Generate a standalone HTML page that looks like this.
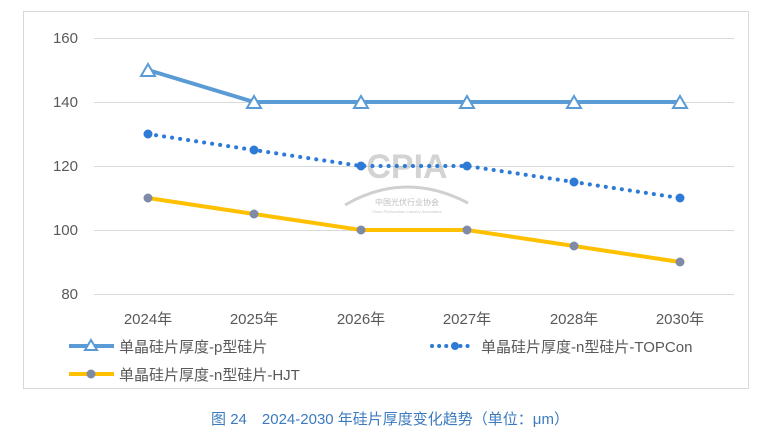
<!DOCTYPE html>
<html><head><meta charset="utf-8"><style>
body{margin:0;background:#fff;width:776px;height:434px;overflow:hidden}
text{font-family:"Liberation Sans","Noto Sans CJK SC",sans-serif}
</style></head><body>
<svg width="776" height="434" viewBox="0 0 776 434" xmlns="http://www.w3.org/2000/svg">
<rect x="23.5" y="11.5" width="725" height="377" fill="#fff" stroke="#d9d9d9"/>
<g stroke="#d9d9d9" stroke-width="1">
<line x1="94" x2="734" y1="38.5" y2="38.5"/><line x1="94" x2="734" y1="102.5" y2="102.5"/>
<line x1="94" x2="734" y1="166.5" y2="166.5"/><line x1="94" x2="734" y1="230.5" y2="230.5"/>
<line x1="94" x2="734" y1="294.5" y2="294.5"/></g>
<g font-size="15" fill="#595959" text-anchor="end">
<text x="78" y="43">160</text><text x="78" y="107">140</text><text x="78" y="171">120</text><text x="78" y="235">100</text><text x="78" y="299">80</text></g>
<g font-size="15" fill="#595959" text-anchor="middle">
<text x="148" y="324">2024年</text><text x="254" y="324">2025年</text><text x="361" y="324">2026年</text><text x="467" y="324">2027年</text><text x="574" y="324">2028年</text><text x="680" y="324">2030年</text></g>
<!-- watermark -->
<g opacity="0.55">
<text x="407" y="178" font-size="34" font-weight="bold" fill="#b0b0b0" text-anchor="middle">CPIA</text>
<path d="M345 205 Q405 170 468 203" stroke="#aaa" stroke-width="3" fill="none"/>
<text x="407" y="205" font-size="8" fill="#888" text-anchor="middle">中国光伏行业协会</text>
<text x="407" y="213" font-size="4" fill="#999" text-anchor="middle">China Photovoltaic Industry Association</text>
</g>
<!-- p -->
<polyline points="148,70 254,102 361,102 467,102 574,102 680,102" fill="none" stroke="#5b9bd5" stroke-width="4"/>
<g fill="#fff" stroke="#5b9bd5" stroke-width="2">
<path d="M148,64 l7,12 h-14z"/><path d="M254,96 l7,12 h-14z"/><path d="M361,96 l7,12 h-14z"/><path d="M467,96 l7,12 h-14z"/><path d="M574,96 l7,12 h-14z"/><path d="M680,96 l7,12 h-14z"/></g>
<!-- TOPCon -->
<polyline points="148,134 254,150 361,166 467,166 574,182 680,198" fill="none" stroke="#2e7bd6" stroke-width="4" stroke-dasharray="0.1 8" stroke-linecap="round"/>
<g fill="#2e7bd6"><circle cx="148" cy="134" r="4.5"/><circle cx="254" cy="150" r="4.5"/><circle cx="361" cy="166" r="4.5"/><circle cx="467" cy="166" r="4.5"/><circle cx="574" cy="182" r="4.5"/><circle cx="680" cy="198" r="4.5"/></g>
<!-- HJT -->
<polyline points="148,198 254,214 361,230 467,230 574,246 680,262" fill="none" stroke="#ffc000" stroke-width="4"/>
<g fill="#7f8ba6"><circle cx="148" cy="198" r="4.5"/><circle cx="254" cy="214" r="4.5"/><circle cx="361" cy="230" r="4.5"/><circle cx="467" cy="230" r="4.5"/><circle cx="574" cy="246" r="4.5"/><circle cx="680" cy="262" r="4.5"/></g>
<!-- legend -->
<line x1="69" x2="114" y1="346" y2="346" stroke="#5b9bd5" stroke-width="4"/>
<path d="M91,340 l6,10 h-12z" fill="#fff" stroke="#5b9bd5" stroke-width="2"/>
<text x="119" y="352" font-size="15" fill="#595959">单晶硅片厚度-p型硅片</text>
<line x1="432" x2="472" y1="346" y2="346" stroke="#2e7bd6" stroke-width="4" stroke-dasharray="0.1 7" stroke-linecap="round"/>
<circle cx="455" cy="346" r="4" fill="#2e7bd6"/>
<text x="481" y="352" font-size="15" fill="#595959">单晶硅片厚度-n型硅片-TOPCon</text>
<line x1="69" x2="114" y1="374" y2="374" stroke="#ffc000" stroke-width="4"/>
<circle cx="91" cy="374" r="4.5" fill="#7f8ba6"/>
<text x="119" y="380" font-size="15" fill="#595959">单晶硅片厚度-n型硅片-HJT</text>
<text x="390" y="424" font-size="15" fill="#3c7bbf" text-anchor="middle">图 24　2024-2030 年硅片厚度变化趋势（单位：μm）</text>
</svg>
</body></html>
